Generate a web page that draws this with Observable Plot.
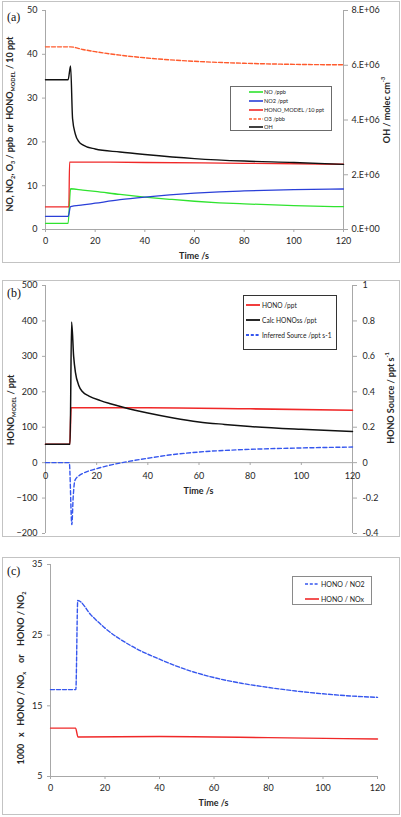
<!DOCTYPE html>
<html><head><meta charset="utf-8">
<script src="https://cdn.jsdelivr.net/npm/d3@7"></script>
<script src="https://cdn.jsdelivr.net/npm/@observablehq/plot@0.6"></script>
<style>
body{margin:0;background:#fff;}
#root{position:relative;width:401px;height:817px;overflow:hidden;font-family:Lato,"Open Sans",sans-serif;background:#fff;}
.frame{position:absolute;border:1px solid #c3c3c3;box-sizing:border-box;pointer-events:none;}
.legend{position:absolute;background:#fff;box-sizing:border-box;color:#222;font-family:Lato,"Open Sans",sans-serif;}
.lbl{position:absolute;font-family:"Liberation Serif","DejaVu Serif",serif;font-size:12px;color:#111;line-height:1;}
</style></head>
<body><div id="root"></div>
<script>
// ---------- Panel (a) data ----------
const xTicks = [0, 20, 40, 60, 80, 100, 120];
const yTicksA = [0, 10, 20, 30, 40, 50];
const ohTickValues = [0, 2e6, 4e6, 6e6, 8e6];
const ohTickLabels = ["0.E+00", "2.E+06", "4.E+06", "6.E+06", "8.E+06"];
const tNO = [0, 9.1, 10.1, 15, 20, 30, 40, 50, 60, 70, 80, 100, 120];
const vNO = [1.4, 1.4, 9.3, 9.0, 8.7, 8.0, 7.4, 6.9, 6.45, 6.1, 5.85, 5.45, 5.2];
const tNO2 = [0, 9.1, 10.1, 15, 20, 30, 40, 50, 60, 70, 80, 100, 120];
const vNO2 = [3.0, 3.0, 5.2, 5.6, 6.0, 6.8, 7.4, 7.9, 8.3, 8.6, 8.8, 9.1, 9.25];
const tHONOa = [0, 9.4, 9.7, 40, 80, 120];
const vHONOa = [5.15, 5.15, 15.4, 15.3, 15.1, 14.9];
const tO3 = [0, 10, 15, 20, 30, 40, 60, 80, 100, 120];
const vO3 = [41.7, 41.7, 41.1, 40.6, 39.8, 39.2, 38.4, 37.95, 37.7, 37.6];
const tOH = [0, 9.1, 10.1, 10.9, 12, 13.5, 15, 20, 30, 40, 60, 80, 100, 120];
const vOH = [5.47e6, 5.47e6, 5.97e6, 4.05e6, 3.49e6, 3.2e6, 3.09e6, 2.94e6, 2.83e6, 2.74e6, 2.59e6, 2.50e6, 2.45e6, 2.38e6];
const legendA = ["NO /ppb", "NO2 /ppt", "HONO_MODEL /10 ppt", "O3 /pbb", "OH"];

// ---------- Panel (b) data ----------
const yTicksB = [-200, -100, 0, 100, 200, 300, 400, 500];
const srcTickValues = [-0.4, -0.2, 0, 0.2, 0.4, 0.6, 0.8, 1];
const srcTickLabels = ["-0.4", "-0.2", "0", "0.2", "0.4", "0.6", "0.8", "1"];
const tHONOb = [0, 9.5, 10, 40, 80, 120];
const vHONOb = [52, 52, 155, 155, 152, 148];
const tSS = [0, 9.6, 10.2, 11, 11.7, 13, 14.5, 17, 21.5, 25, 30, 35, 40, 50, 60, 70, 80, 100, 120];
const vSS = [52, 52, 397, 300, 255, 218, 200, 188, 175, 167, 157, 148, 140, 126, 115, 108, 102, 94, 88];
const tSrc = [0, 9.3, 10.3, 10.8, 11.5, 13, 15, 20, 25, 30, 40, 50, 60, 80, 100, 120];
const vSrc = [0, 0, -0.35, -0.2, -0.1, -0.075, -0.058, -0.034, -0.015, 0, 0.025, 0.046, 0.06, 0.075, 0.083, 0.088];
const legendB = ["HONO /ppt", "Calc HONOss /ppt", "Inferred Source /ppt s-1"];

// ---------- Panel (c) data ----------
const yTicksC = [5, 15, 25, 35];
const tRatioNO2 = [0, 9.3, 10, 15, 20, 30, 40, 50, 60, 70, 80, 90, 100, 110, 120];
const vRatioNO2 = [17.3, 17.3, 29.9, 27.8, 26.0, 23.4, 21.6, 20.1, 19.0, 18.2, 17.6, 17.1, 16.7, 16.4, 16.2];
const tRatioNOx = [0, 9.2, 10.1, 40, 80, 120];
const vRatioNOx = [11.85, 11.85, 10.6, 10.65, 10.5, 10.3];
const legendC = ["HONO / NO2", "HONO / NOx"];

// ---------- styling ----------
const FONT = "Lato, 'Open Sans', sans-serif";
const axisGray = "#a8a8a8", textCol = "#262626";
const cGreen = "#2fe32f", cBlue = "#2a3fd8", cRed = "#f02828", cOrange = "#ff5a2c", cBlack = "#111111", cBlueDash = "#3556ee";
const ohScale = 50 / 8e6;   // OH axis 0..8e6 mapped onto left 0..50
const srcScale = 500;       // source axis -0.4..1 mapped onto left -200..500

const rows = (ts, vs, f = v => v) => ts.map((t, i) => ({t, v: f(vs[i])}));
const root = document.getElementById("root");
const style = {fontFamily: FONT, fontSize: "9px", color: textCol, background: "transparent", overflow: "visible"};

function place(el, top) { el.style.position = "absolute"; el.style.left = "0px"; el.style.top = top + "px"; root.appendChild(el); }
function frame(left, top, w, h) { const d = document.createElement("div"); d.className = "frame"; Object.assign(d.style, {left: left+"px", top: top+"px", width: w+"px", height: h+"px"}); root.appendChild(d); }
function panelLabel(txt, left, top) { const d = document.createElement("div"); d.className = "lbl"; d.textContent = txt; d.style.left = left+"px"; d.style.top = top+"px"; root.appendChild(d); }

function vTitle(svg, x, y, parts, size) {
  const t = d3.select(svg).append("text")
    .attr("transform", `translate(${x},${y}) rotate(-90)`)
    .attr("text-anchor", "middle").attr("dominant-baseline", "central")
    .attr("font-weight", "bold").attr("font-size", size).attr("fill", textCol)
    .attr("font-family", FONT).style("white-space", "pre");
  for (const p of parts) {
    const s = t.append("tspan").text(p.s);
    if (p.sub) s.attr("baseline-shift", "sub").attr("font-size", size * 0.62);
    if (p.sup) s.attr("baseline-shift", "super").attr("font-size", size * 0.62);
  }
}
function hTitle(svg, x, y, txt, size) {
  d3.select(svg).append("text").attr("x", x).attr("y", y)
    .attr("text-anchor", "middle").attr("dominant-baseline", "central")
    .attr("font-weight", "bold").attr("font-size", size).attr("fill", textCol)
    .attr("font-family", FONT).text(txt);
}
function legend(left, top, w, h, border, items, o) {
  const box = document.createElement("div"); box.className = "legend";
  Object.assign(box.style, {left: left+"px", top: top+"px", width: w+"px", height: h+"px", border: "1px solid " + border, fontSize: o.fs + "px"});
  items.forEach((it, i) => {
    const y = o.rows[i];
    const s = document.createElementNS("http://www.w3.org/2000/svg", "svg");
    s.setAttribute("width", o.lw); s.setAttribute("height", 4);
    s.style.cssText = `position:absolute;left:${o.lx}px;top:${y-2}px;overflow:visible`;
    s.innerHTML = `<line x1="0" y1="2" x2="${o.lw}" y2="2" stroke="${it.color}" stroke-width="${it.sw||1.6}" ${it.dash ? `stroke-dasharray="${it.dash}"` : ""}/>`;
    box.appendChild(s);
    const t = document.createElement("div");
    t.textContent = it.label;
    t.style.cssText = `position:absolute;left:${o.tx}px;top:${y}px;transform:translateY(-50%);line-height:1;white-space:nowrap;`;
    box.appendChild(t);
  });
  root.appendChild(box);
}
const fmtFrom = (vals, labels, scale) => d => { const i = vals.findIndex(v => Math.abs(v * scale - d) < 1e-6 * Math.max(1, Math.abs(d))); return i >= 0 ? labels[i] : ""; };

// ================= Panel (a) =================
const A = Plot.plot({
  width: 401, height: 264,
  marginLeft: 45, marginRight: 58, marginTop: 10, marginBottom: 35,
  style,
  x: {domain: [0, 120]},
  y: {domain: [0, 50]},
  marks: [
    Plot.ruleX([0, 120], {stroke: axisGray}),
    Plot.ruleY([0], {stroke: axisGray}),
    Plot.axisY(yTicksA, {anchor: "left", tickSize: 3, tickPadding: 5, label: null, stroke: axisGray, fill: textCol}),
    Plot.axisY(ohTickValues.map(v => v * ohScale), {anchor: "right", tickSize: 4, tickPadding: 4, label: null, stroke: axisGray, fill: textCol,
      tickFormat: fmtFrom(ohTickValues, ohTickLabels, ohScale)}),
    Plot.axisX(xTicks, {anchor: "bottom", tickSize: 3, tickPadding: 5, label: null, stroke: axisGray, fill: textCol}),
    Plot.line(rows(tNO, vNO), {x: "t", y: "v", stroke: cGreen, strokeWidth: 1.3, curve: "monotone-x"}),
    Plot.line(rows(tNO2, vNO2), {x: "t", y: "v", stroke: cBlue, strokeWidth: 1.3, curve: "monotone-x"}),
    Plot.line(rows(tHONOa, vHONOa), {x: "t", y: "v", stroke: cRed, strokeWidth: 1.3, curve: "monotone-x"}),
    Plot.line(rows(tO3, vO3), {x: "t", y: "v", stroke: cOrange, strokeWidth: 1.4, strokeDasharray: "4,2", curve: "monotone-x"}),
    Plot.line(rows(tOH, vOH, v => v * ohScale), {x: "t", y: "v", stroke: cBlack, strokeWidth: 1.4, curve: "monotone-x"})
  ]
});
place(A, 0);
vTitle(A, 8.5, 124, [{s: "NO, NO"}, {s: "2", sub: 1}, {s: ", O"}, {s: "3", sub: 1}, {s: " / ppb  or  HONO"}, {s: "MODEL", sub: 1}, {s: " / 10 ppt"}], 9);
vTitle(A, 386, 110, [{s: "OH / molec cm"}, {s: "-3", sup: 1}], 9);
hTitle(A, A.scale("x").apply(60), 255, "Time /s", 9);
frame(2, 1, 398, 262);
panelLabel("(a)", 7, 11);
legend(230, 86, 102, 45, "#6b6b6b", legendA.map((l, i) => ({label: l, color: [cGreen, cBlue, cRed, cOrange, cBlack][i], dash: i === 3 ? "3,1.5" : null})),
  {fs: 5.6, rows: [4.5, 13.5, 22.5, 31.5, 40], lx: 18, lw: 14, tx: 33});

// ================= Panel (b) =================
const B = Plot.plot({
  width: 401, height: 257,
  marginLeft: 45, marginRight: 49, marginTop: 5, marginBottom: 4,
  style,
  x: {domain: [0, 120], axis: null},
  y: {domain: [-200, 500]},
  marks: [
    Plot.ruleX([0, 120], {stroke: axisGray}),
    Plot.ruleY([0], {stroke: axisGray}),
    Plot.axisY(yTicksB, {anchor: "left", tickSize: 3, tickPadding: 5, label: null, stroke: axisGray, fill: textCol}),
    Plot.axisY(srcTickValues.map(v => v * srcScale), {anchor: "right", tickSize: 4, tickPadding: 6, label: null, stroke: axisGray, fill: textCol,
      tickFormat: fmtFrom(srcTickValues, srcTickLabels, srcScale)}),
    Plot.ruleX(xTicks, {x: d => d, y1: 0, y2: -8, stroke: axisGray}),
    Plot.text(xTicks, {x: d => d, y: 0, dy: 13, text: d => String(d), fill: textCol}),
    Plot.line(rows(tHONOb, vHONOb), {x: "t", y: "v", stroke: cRed, strokeWidth: 1.6, curve: "monotone-x"}),
    Plot.line(rows(tSS, vSS), {x: "t", y: "v", stroke: cBlack, strokeWidth: 1.5, curve: "monotone-x"}),
    Plot.line(rows(tSrc, vSrc, v => v * srcScale), {x: "t", y: "v", stroke: cBlueDash, strokeWidth: 1.4, strokeDasharray: "4,2.5", curve: "monotone-x"})
  ]
});
place(B, 280);
vTitle(B, 10, 130, [{s: "HONO"}, {s: "MODEL", sub: 1}, {s: " / ppt"}], 9);
vTitle(B, 390, 118, [{s: "HONO Source / ppt s"}, {s: "-1", sup: 1}], 9);
hTitle(B, B.scale("x").apply(60), 210, "Time /s", 9);
frame(2, 280, 398, 257);
panelLabel("(b)", 7, 287);
legend(243, 295, 94, 55, "#333", legendB.map((l, i) => ({label: l, color: [cRed, cBlack, cBlueDash][i], dash: i === 2 ? "3,1.8" : null, sw: 1.8})),
  {fs: 6.6, rows: [8.5, 23.7, 39], lx: 2, lw: 14, tx: 18});

// ================= Panel (c) =================
const C = Plot.plot({
  width: 401, height: 258,
  marginLeft: 50, marginRight: 24, marginTop: 7, marginBottom: 39,
  style,
  x: {domain: [0, 120]},
  y: {domain: [5, 35]},
  marks: [
    Plot.ruleX([0], {stroke: axisGray}),
    Plot.ruleY([5], {stroke: axisGray}),
    Plot.axisY(yTicksC, {anchor: "left", tickSize: 3, tickPadding: 5, label: null, stroke: axisGray, fill: textCol}),
    Plot.axisX(xTicks, {anchor: "bottom", tickSize: 3, tickPadding: 5, label: null, stroke: axisGray, fill: textCol}),
    Plot.line(rows(tRatioNO2, vRatioNO2), {x: "t", y: "v", stroke: cBlueDash, strokeWidth: 1.4, strokeDasharray: "4,2", curve: "monotone-x"}),
    Plot.line(rows(tRatioNOx, vRatioNOx), {x: "t", y: "v", stroke: cRed, strokeWidth: 1.4, curve: "monotone-x"})
  ]
});
place(C, 557);
vTitle(C, 20, 121, [{s: "1000   x   HONO / NO"}, {s: "x", sub: 1}, {s: "    or    HONO / NO"}, {s: "2", sub: 1}], 9);
hTitle(C, C.scale("x").apply(60), 245, "Time /s", 9);
frame(2, 557, 398, 258);
panelLabel("(c)", 7, 565);
legend(292, 576, 80, 29, "#8a8a8a", legendC.map((l, i) => ({label: l, color: [cBlueDash, cRed][i], dash: i === 0 ? "3,1.8" : null})),
  {fs: 7, rows: [6.7, 21.7], lx: 12, lw: 14, tx: 28});
</script>
</body></html>
